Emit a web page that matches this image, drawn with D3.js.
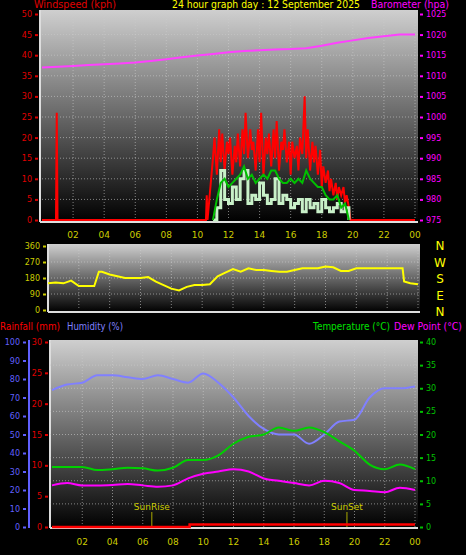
<!DOCTYPE html>
<html><head><meta charset="utf-8">
<script src="https://cdn.jsdelivr.net/npm/d3@7"></script>
<style>body{margin:0;background:#000}svg{display:block}text{font-family:"DejaVu Sans",sans-serif}</style>
</head><body><div class="canvas"></div>
<script>
// ---- data ----
var hourTicks = ["02","04","06","08","10","12","14","16","18","20","22","00"];
var baroHours = d3.range(0, 25);
var baro = [1012,1012.2,1012.4,1012.6,1012.8,1013,1013.2,1013.6,1014,1014.5,1014.9,1015.3,1015.7,1016,1016.2,1016.4,1016.5,1016.7,1017.3,1018,1018.6,1019.2,1019.6,1020,1020];
var gustTimes = [0,0.9,0.95,1.0,10.55,10.6,10.65,11.0,11.1,11.25,11.4,11.5,11.6,11.75,11.9,12,12.1,12.25,12.4,12.5,12.6,12.75,12.9,13,13.1,13.25,13.4,13.5,13.6,13.75,13.9,14,14.1,14.25,14.4,14.5,14.6,14.75,14.9,15,15.1,15.25,15.4,15.5,15.6,15.75,15.9,16,16.1,16.25,16.4,16.5,16.6,16.75,16.9,17,17.1,17.25,17.4,17.5,17.6,17.75,17.9,18,18.1,18.25,18.4,18.5,18.6,18.75,18.9,19,19.1,19.25,19.4,19.5,19.6,19.75,19.85,24];
var gust =      [0,0,26,0,0,6,0,15,20,11,22,14,21,12,19,16,20,11,18,14,21,13,22,16,26,15,22,17,19,12,22,14,26,11,20,16,21,13,22,15,24,12,19,17,22,14,19,11,19,15,18,12,20,16,30,15,22,12,19,14,18,11,17,8,13,9,12,7,10,6,9,5,8,6,8,4,6,3,0,0];
var avgTimes = [11.0,11.25,11.5,11.75,12,12.25,12.5,12.75,13,13.25,13.5,13.75,14,14.25,14.5,14.75,15,15.25,15.5,15.75,16,16.25,16.5,16.75,17,17.25,17.5,17.75,18,18.25,18.5,18.75,19,19.25,19.5,19.75];
var avgWind =  [0,5,9,10,8,9,10,11,13,10,11,9,10,11,10,12,12,10,9,9,10,9,10,9,12,10,9,8,8,6,5,5,6,3,4,0];
var speed =    [0,3,12,5,4,8,5,10,12,4,6,5,9,6,4,5,10,4,6,5,3,4,5,2,5,3,4,2,5,3,2,3,4,2,3,0];
var dirTimes = [0,0.5,1,1.5,2,2.5,3,3.3,3.5,4,4.5,5,5.5,6,6.5,7,7.5,8,8.5,9,9.5,10,10.5,11,11.5,12,12.5,13,13.5,14,14.5,15,15.5,16,16.5,17,17.5,18,18.5,19,19.5,20,21,22,23,23.1,23.5,24];
var dir =      [150,155,150,165,135,135,135,215,215,200,190,180,180,180,185,160,140,120,110,130,140,140,145,190,210,230,215,235,225,225,220,215,215,225,235,235,235,245,240,220,220,235,235,235,235,160,150,145];
var hours = d3.range(0, 25);
var temp = [13,13,13,12.3,12.5,12.8,12.7,12.2,12.8,14.5,14.5,15.5,18,19.5,20,21.5,20.8,21.5,20.5,18.5,16.5,13.5,12.5,13.5,12.5];
var hum =  [74,77,78,82,82,81,80,82,80,78,83,78,70,60,53,50,50,45,50,57,58,70,75,75,76];
var dew =  [9,9.5,9,9,9.1,9.3,9,8.7,9,10.5,11.5,12,12.5,12,10.5,10,9.5,9,10,9.5,8,7.8,7.5,8.5,8];
var rainTimes = [0,9.1,9.1,24];
var rain = [0,0,0.4,0.4];
var sunEvents = [["SunRise",6.6],["SunSet",19.5]];

var svg = d3.select('.canvas').append('svg').attr('width',466).attr('height',555);
var defs = svg.append('defs');
var g = defs.append('linearGradient').attr('id','bg').attr('x1',0).attr('y1',0).attr('x2',0).attr('y2',1);
g.append('stop').attr('offset','0%').attr('stop-color','#cfcfcf');
g.append('stop').attr('offset','100%').attr('stop-color','#000');

function panel(x0,x1,y0,y1){
  svg.append('rect').attr('x',x0).attr('y',y0).attr('width',x1-x0).attr('height',y1-y0).attr('fill','url(#bg)');
  svg.append('line').attr('x1',x0).attr('x2',x0).attr('y1',y0).attr('y2',y1).attr('stroke','#ddd').attr('stroke-width',2);
  svg.append('line').attr('x1',x0).attr('x2',x1).attr('y1',y1).attr('y2',y1).attr('stroke','#ddd').attr('stroke-width',2);
}
function vgrid(x,y0,y1){
  for(var h=2;h<=24;h+=2) svg.append('line').attr('x1',x(h)).attr('x2',x(h)).attr('y1',y0).attr('y2',y1)
    .attr('stroke','#ccc').attr('stroke-dasharray','1,2').attr('opacity',0.6);
}
function hgrid(y,vals,x0,x1){
  vals.forEach(function(v){svg.append('line').attr('x1',x0).attr('x2',x1).attr('y1',y(v)).attr('y2',y(v))
    .attr('stroke','#ccc').attr('stroke-dasharray','1,2').attr('opacity',0.6);});
}
function hourLabels(x,y){
  hourTicks.forEach(function(t,i){svg.append('text').attr('x',x(2*(i+1))).attr('y',y).attr('text-anchor','middle')
    .attr('fill','#cccc00').attr('font-size',9).text(t);});
}
function axis(scale,xpos,vals,color,side,fmt){
  var ax = (side=='left'?d3.axisLeft(scale):d3.axisRight(scale)).tickValues(vals).tickSize(3).tickFormat(fmt||d3.format('d'));
  var a = svg.append('g').attr('transform','translate('+xpos+',0)').call(ax);
  a.select('.domain').remove();
  a.selectAll('line').attr('stroke',color).attr('stroke-width',2);
  a.selectAll('text').attr('fill',color).attr('font-size',8).attr('font-family','DejaVu Sans');
  return a;
}
function path(x,y,xs,ys,color,w,curve){
  svg.append('path').attr('d',d3.line().x(function(d,i){return x(xs[i]);}).y(function(d){return y(d);}).curve(curve||d3.curveLinear)(ys))
    .attr('fill','none').attr('stroke',color).attr('stroke-width',w);
}
function label(x,y,color,len,txt){
  svg.append('text').attr('x',x).attr('y',y).attr('fill',color).attr('font-size',10)
    .attr('textLength',len).attr('lengthAdjust','spacingAndGlyphs').text(txt);
}

// ---- panel 1: wind & barometer ----
var x1 = d3.scaleLinear().domain([0,24]).range([42,415]);
var yW = d3.scaleLinear().domain([0,50]).range([220,14]);
var yB = d3.scaleLinear().domain([975,1025]).range([220,14]);
panel(40,418,10,222);
vgrid(x1,10,220); hgrid(yW,d3.range(5,51,5),42,418);
axis(yW,38,d3.range(0,51,5),'#e00000','left');
axis(yB,420,d3.range(975,1026,5),'#ff00ff','right');
path(x1,yB,baroHours,baro,'#ff40ff',2);
path(x1,yW,gustTimes,gust,'#ff0000',2);
path(x1,yW,avgTimes,speed,'#c8f0c8',3,d3.curveStepAfter);
path(x1,yW,avgTimes,avgWind,'#00c000',2);
hourLabels(x1,238);
label(34,8,'#e00000',82,'Windspeed (kph)');
label(172,8,'#ffff00',188,'24 hour graph day : 12 September 2025');
label(371,8,'#ff00ff',78,'Barometer (hpa)');

// ---- panel 2: wind direction ----
var x2 = d3.scaleLinear().domain([0,24]).range([48,418]);
var yD = d3.scaleLinear().domain([0,360]).range([310,246]);
panel(48,420,244,312);
vgrid(x2,244,310); hgrid(yD,[90,180,270],48,420);
axis(yD,46,[0,90,180,270,360],'#cccc00','left');
path(x2,yD,dirTimes,dir,'#ffff00',2);
['N','W','S','E','N'].forEach(function(c,i){svg.append('text').attr('x',440).attr('y',250+i*16.5).attr('text-anchor','middle')
  .attr('fill','#ffff00').attr('font-size',12).text(c);});

// ---- panel 3: temperature, humidity, rain ----
var x3 = d3.scaleLinear().domain([0,24]).range([52,415]);
var yT = d3.scaleLinear().domain([0,40]).range([527,342]);
var yH = d3.scaleLinear().domain([0,100]).range([527,342]);
var yR = d3.scaleLinear().domain([0,30]).range([527,342]);
panel(50,418,340,528);
vgrid(x3,340,527); hgrid(yT,d3.range(5,41,5),50,418);
axis(yH,26,d3.range(0,101,10),'#6060ff','left');
axis(yR,48,d3.range(0,31,5),'#e00000','left');
axis(yT,420,d3.range(0,41,5),'#00c000','right');
svg.append('line').attr('x1',29).attr('x2',29).attr('y1',340).attr('y2',528).attr('stroke','#6060ff').attr('stroke-width',2);
sunEvents.forEach(function(s){
  svg.append('line').attr('x1',x3(s[1])).attr('x2',x3(s[1])).attr('y1',512).attr('y2',527).attr('stroke','#aaaa00');
  svg.append('text').attr('x',x3(s[1])).attr('y',510).attr('text-anchor','middle').attr('fill','#cccc00').attr('font-size',9).text(s[0]);
});
path(x3,yH,hours,hum,'#8080ff',2,d3.curveMonotoneX);
path(x3,yT,hours,temp,'#00d000',2,d3.curveMonotoneX);
path(x3,yT,hours,dew,'#ff00ff',2,d3.curveMonotoneX);
path(x3,yR,rainTimes,rain,'#ff0000',2.5);
hourLabels(x3,545);
label(0,330,'#ff0000',60,'Rainfall (mm)');
label(67,330,'#8080ff',56,'Humidity (%)');
label(313,330,'#00e000',77,'Temperature (°C)');
label(394,330,'#ff00ff',68,'Dew Point (°C)');
</script></body></html>
